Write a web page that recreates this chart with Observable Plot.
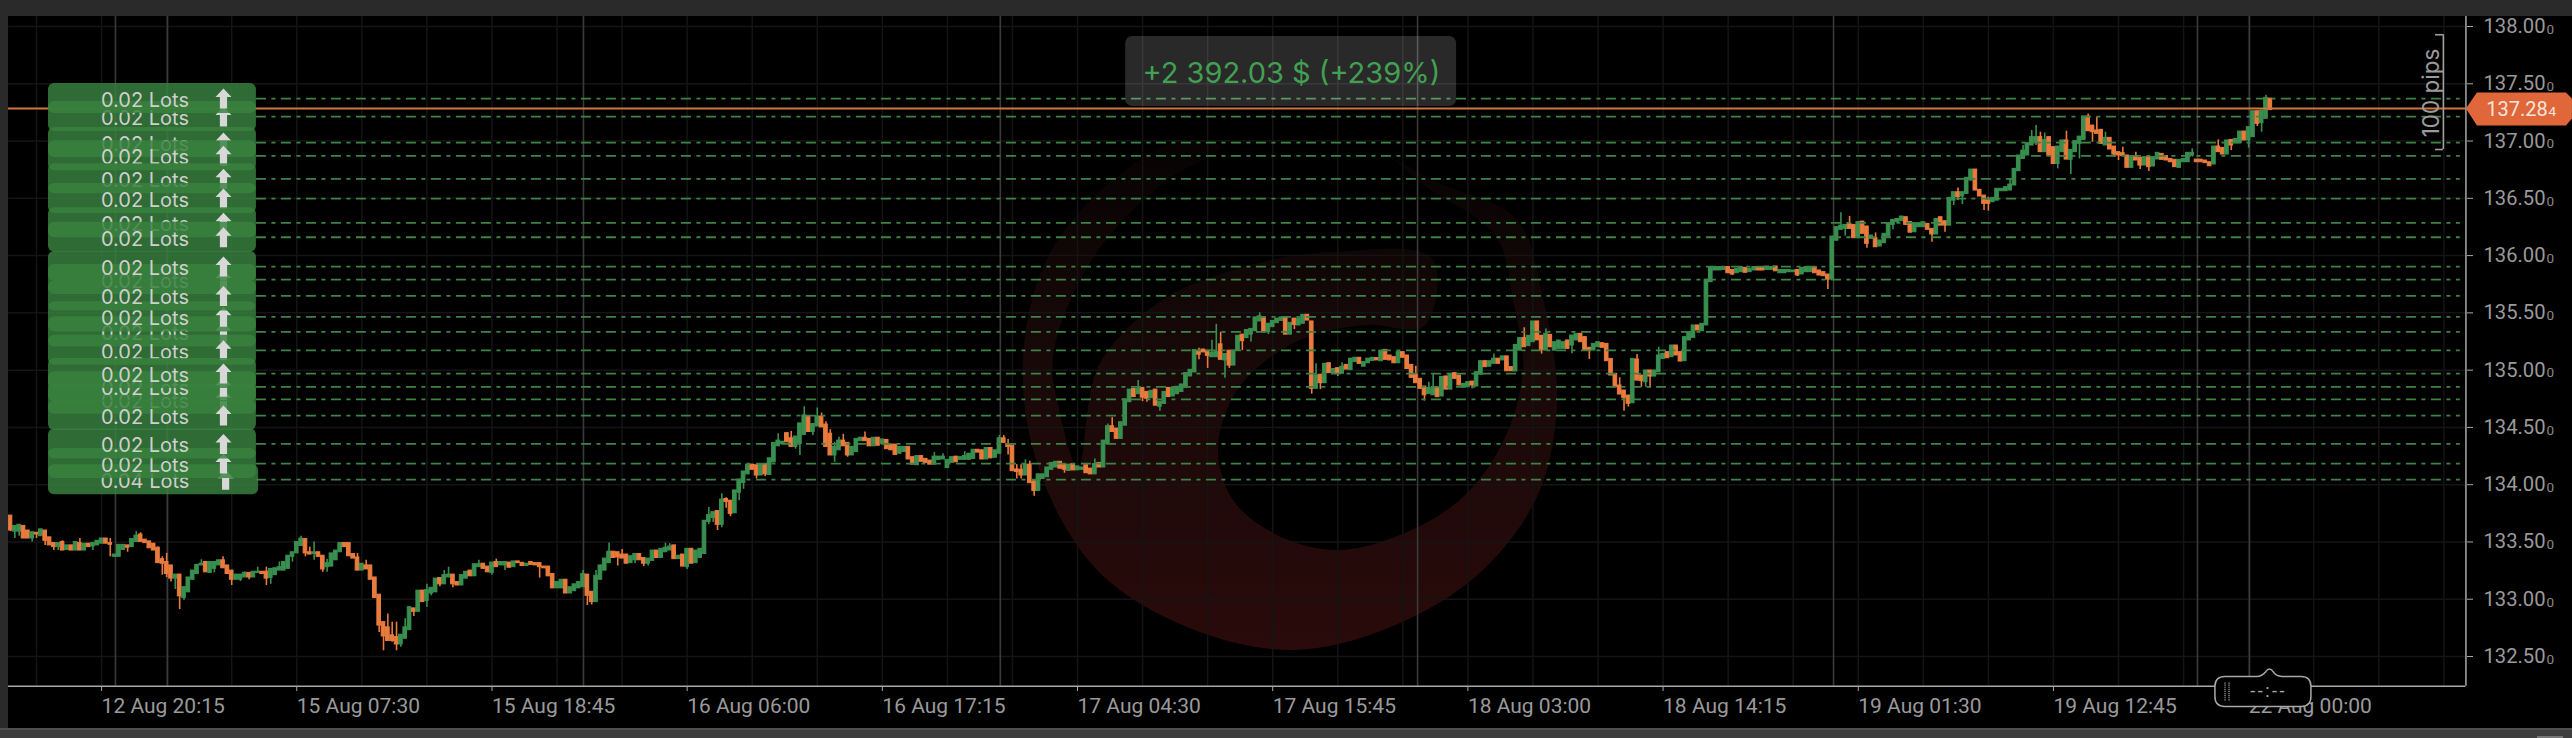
<!DOCTYPE html>
<html>
<head>
<meta charset="utf-8">
<script src="https://cdn.jsdelivr.net/npm/d3@7"></script>
<script src="https://cdn.jsdelivr.net/npm/@observablehq/plot@0.6"></script>
<style>
html,body{margin:0;padding:0;background:#000;width:2572px;height:738px;overflow:hidden}
#wrap{position:relative;width:2572px;height:738px}
.chrome{position:absolute;background:#2a2a2a}
</style>
</head>
<body>
<div id="wrap"></div>
<script>
// each row: open, close, high (0 = none), low (0 = none)
const barsDay1 = [[133.73,133.60,0,133.59],[133.59,133.64,0,133.53],[133.59,133.65,0,133.55],[133.64,133.53],[133.60,133.53],[133.53,133.585,0,133.5],[133.58,133.565,0,133.53],[133.55,133.61],[133.60,133.51,0,133.47],[133.54,133.47],[133.49,133.455,0,133.425],[133.455,133.49,0,133.425],[133.50,133.425,133.51,0],[133.43,133.47],[133.47,133.425],[133.425,133.50],[133.49,133.425,133.53,0],[133.425,133.485],[133.485,133.455],[133.46,133.49,0,133.425],[133.47,133.51],[133.485,133.53],[133.53,133.485],[133.49,133.475,133.53,133.37],[133.37,133.39],[133.37,133.475],[133.43,133.475],[133.47,133.45,0,133.41],[133.455,133.525],[133.5,133.555,133.59,0],[133.565,133.5,133.58,0],[133.52,133.49],[133.505,133.445],[133.485,133.425],[133.45,133.315,133.455,0],[133.35,133.31,133.37,133.21],[133.325,133.22,133.4,133.19],[133.295,133.18,0,133.15],[133.18,133.215,0,133.085],[133.215,133.025,0,132.91],[133.01,133.105,0,132.99],[133.06,133.19],[133.17,133.25],[133.22,133.30],[133.295,133.31,133.345,0],[133.325,133.235,133.33,0],[133.23,133.325],[133.265,133.325,0,133.23],[133.295,133.34],[133.34,133.27,133.37,0],[133.295,133.22],[133.25,133.17,0,133.12],[133.17,133.215],[133.17,133.215,0,133.155],[133.19,133.23,133.24,0],[133.23,133.19,0,133.17],[133.19,133.24],[133.23,133.24,133.28,0],[133.24,133.22],[133.24,133.18,133.28,133.12],[133.185,133.265,0,133.13],[133.21,133.27],[133.25,133.28,133.325,0],[133.25,133.325],[133.265,133.38],[133.37,133.41,0,133.325],[133.4,133.5],[133.465,133.53,133.55,0],[133.525,133.4,0,133.37],[133.41,133.39,133.455,0],[133.395,133.41,133.5,133.34],[133.41,133.37],[133.38,133.26,0,133.235],[133.28,133.315,133.35,133.235],[133.285,133.40],[133.34,133.425],[133.41,133.49],[133.49,133.455],[133.49,133.375],[133.395,133.355],[133.365,133.25,133.4,0],[133.25,133.31],[133.295,133.26,133.34,0],[133.295,133.17],[133.19,133.01],[133.04,132.77,0,132.71],[132.80,132.675,0,132.55],[132.755,132.635,132.87,0],[132.685,132.635,132.8,132.625],[132.67,132.605,132.8,132.55],[132.605,132.69,0,132.58],[132.655,132.755,132.83,0],[132.73,132.93],[132.92,132.89,0,132.85],[132.89,133.075],[133.075,132.975],[132.985,133.08,133.13,132.93],[133.05,133.1,0,133.03],[133.06,133.18],[133.185,133.13,0,133.11],[133.13,133.21,133.25,0],[133.19,133.215,133.28,0],[133.215,133.13,0,133.1],[133.15,133.12],[133.12,133.21],[133.18,133.24],[133.25,133.2],[133.2,133.305],[133.28,133.305,133.34,0],[133.31,133.265],[133.285,133.235],[133.23,133.32,0,133.21],[133.325,133.28,133.35,0],[133.295,133.325],[133.295,133.325,0,133.25],[133.32,133.275],[133.28,133.33]];
const barsDay2 = [[133.33,133.315],[133.318,133.29],[133.29,133.31],[133.325,133.30],[133.315,133.295],[133.315,133.28,0,133.185],[133.285,133.27],[133.285,133.2],[133.22,133.095],[133.095,133.15],[133.095,133.17],[133.17,133.05],[133.05,133.105],[133.07,133.13],[133.095,133.15],[133.105,133.22,133.25,0],[133.215,133.03,0,132.945],[133.065,132.975,0,132.95],[132.975,133.205,133.25,0],[133.17,133.295],[133.25,133.355],[133.315,133.415,133.49,0],[133.415,133.36],[133.41,133.365,0,133.29],[133.39,133.355,133.435,0],[133.39,133.31],[133.315,133.375],[133.34,133.395,0,133.31],[133.395,133.34],[133.36,133.31,0,133.285],[133.31,133.355,0,133.29],[133.335,133.425],[133.425,133.36],[133.36,133.44],[133.41,133.45,133.49,0],[133.425,133.46,133.485,0],[133.47,133.35],[133.35,133.38],[133.39,133.285],[133.28,133.44,0,133.26],[133.44,133.31],[133.315,133.425],[133.36,133.44],[133.395,133.685],[133.675,133.735,133.8,133.65],[133.71,133.76,0,133.67],[133.77,133.65,0,133.6],[133.65,133.87,133.92,133.625],[133.875,133.85,133.885,133.795],[133.86,133.745,0,133.72],[133.75,133.95],[133.93,134.045,0,133.86],[134.015,134.115,0,133.96],[134.09,134.175],[134.175,134.13],[134.17,134.08,0,134.05],[134.08,134.18],[134.18,134.09,0,134.07],[134.085,134.23],[134.195,134.365],[134.335,134.385,134.445,0],[134.355,134.375],[134.45,134.37],[134.405,134.33,134.465,0],[134.33,134.42,0,134.31],[134.355,134.535,0,134.255],[134.435,134.605,134.68,0],[134.6,134.46],[134.46,134.53,0,134.43],[134.508,134.595,134.67,0],[134.595,134.5,134.625,0],[134.525,134.33,134.55,0],[134.445,134.255,134.48,0],[134.255,134.33,134.37,134.195],[134.3,134.385,134.415,0],[134.385,134.335,134.44,0],[134.365,134.255,0,134.24],[134.255,134.33],[134.285,134.4],[134.38,134.41],[134.41,134.38,134.46,0],[134.4,134.335],[134.335,134.41],[134.41,134.34],[134.355,134.395],[134.39,134.31],[134.35,134.3],[134.35,134.26],[134.27,134.33],[134.285,134.33],[134.33,134.22],[134.24,134.175],[134.17,134.25],[134.25,134.2],[134.225,134.19],[134.21,134.175],[134.175,134.245,134.28,0],[134.215,134.245],[134.22,134.245,134.27,0],[134.145,134.217],[134.19,134.24],[134.245,134.195],[134.217,134.24],[134.217,134.25,134.29,0],[134.217,134.27],[134.225,134.305],[134.305,134.28],[134.3,134.22],[134.22,134.32],[134.32,134.23],[134.235,134.3],[134.27,134.405,134.43,0],[134.405,134.365,134.43,0],[134.355,134.33,134.395,134.26],[134.34,134.118],[134.133,134.11,134.175,134.05],[134.13,134.08,134.175,134.05],[134.08,134.175,134.217,0],[134.175,134.013,134.205,0],[134.03,133.945,0,133.9],[133.945,134.09]];
const barsDay3 = [[134.05,134.09],[134.065,134.15],[134.13,134.19],[134.15,134.2],[134.2,134.14],[134.175,134.13,0,134.1],[134.12,134.175],[134.18,134.125],[134.125,134.16],[134.13,134.15],[134.17,134.1],[134.14,134.09],[134.09,134.18,134.225,0],[134.19,134.15],[134.15,134.385],[134.355,134.51,134.53,0],[134.51,134.46,134.585,0],[134.49,134.4],[134.4,134.545],[134.515,134.745],[134.72,134.83],[134.835,134.765],[134.79,134.835,134.91,0],[134.845,134.76,0,134.725],[134.81,134.75,0,134.72],[134.755,134.82],[134.83,134.69],[134.68,134.725,0,134.64],[134.705,134.81],[134.845,134.765],[134.77,134.845],[134.79,134.855],[134.81,134.875],[134.845,134.975],[134.945,135.003],[134.98,135.175],[135.165,135.135,135.19,135.09],[135.18,135.155],[135.17,135.125,0,135.015],[135.113,135.15,135.26,0],[135.113,135.157,135.4,0],[135.225,135.09,135.33,0],[135.085,135.14,0,134.93],[135.17,135.04,0,135.015],[135.04,135.17],[135.17,135.3],[135.31,135.253,0,135.17],[135.28,135.35],[135.31,135.36,0,135.245],[135.34,135.46],[135.425,135.47,135.5,0],[135.46,135.33],[135.33,135.405,0,135.31],[135.375,135.43],[135.41,135.45],[135.43,135.46],[135.46,135.31],[135.31,135.413],[135.45,135.395,0,135.355],[135.39,135.45],[135.405,135.483],[135.483,135.433],[135.425,134.837,0,134.79],[134.837,134.953,135.055,0],[134.96,134.886,0,134.83],[134.886,135.055],[135.06,134.974],[134.974,135.01],[135.017,134.974,0,134.945],[134.968,135.03,135.064,0],[135.046,135.005],[135,135.1],[135.07,135.108],[135.108,135.055],[135.03,135.07],[135.06,135.1],[135.08,135.108],[135.105,135.085],[135.078,135.17],[135.177,135.09],[135.128,135.085],[135.113,135.06],[135.06,135.157],[135.157,135.108],[135.128,135.01],[135.046,134.933],[134.96,134.886,135.035,0],[134.924,134.837],[134.857,134.78,0,134.73],[134.793,134.845,134.895,0],[134.78,134.845,134.96,0],[134.845,134.764],[134.77,134.94],[134.945,134.83],[134.83,134.968],[134.974,134.924],[134.953,134.866],[134.85,134.88],[134.85,134.895],[134.9,134.866,0,134.837],[134.857,134.982],[134.96,135.078],[135.078,135.026],[135.03,135.078],[135.055,135.1,135.14,0],[135.1,135.055],[135.085,135.12],[135.12,134.99],[135.026,134.99],[134.988,135.22],[135.17,135.28],[135.28,135.2,135.37,0],[135.21,135.3],[135.244,135.425],[135.425,135.26],[135.3,135.177,0,135.14],[135.17,135.317,135.36,0],[135.308,135.2],[135.17,135.244]];
const barsDay4 = [[135.186,135.259],[135.186,135.244],[135.259,135.186],[135.215,135.302,0,135.142],[135.259,135.317],[135.317,135.244],[135.288,135.177],[135.195,135.171,0,135.093],[135.171,135.229],[135.2,135.244],[135.235,135.195],[135.229,135.078],[135.098,134.953],[134.967,134.851],[134.866,134.787,134.933,0],[134.822,134.758,0,134.642],[134.778,134.706,0,134.677],[134.711,135.098],[135.093,134.909,135.136,0],[134.953,134.904,0,134.851],[134.895,134.997,0,134.851],[134.997,134.944,0,134.842],[134.944,134.997],[134.982,135.128,135.2,0],[135.098,135.142],[135.157,135.104],[135.113,135.215],[135.215,135.128],[135.157,135.075],[135.078,135.288],[135.259,135.331],[135.282,135.39],[135.39,135.346],[135.34,135.404],[135.39,135.79],[135.768,135.893],[135.87,135.9],[135.87,135.9],[135.875,135.9],[135.9,135.846],[135.875,135.835,0,135.826],[135.846,135.885],[135.855,135.9],[135.893,135.85],[135.855,135.885],[135.87,135.9],[135.9,135.87],[135.9,135.87],[135.875,135.905],[135.875,135.9],[135.905,135.863],[135.846,135.875],[135.846,135.875],[135.855,135.875],[135.855,135.87],[135.875,135.826,0,135.817],[135.835,135.893],[135.855,135.9],[135.855,135.893],[135.9,135.846],[135.87,135.826],[135.855,135.82],[135.835,135.79,0,135.704]];
const barsDay5 = [[135.79,136.166],[136.13,136.248],[136.225,136.262,136.373,0],[136.233,136.268,0,136.17],[136.277,136.233,136.341,0],[136.268,136.152],[136.152,136.292],[136.297,136.19],[136.254,136.102,0,136.065],[136.146,136.175],[136.152,136.073,136.198,0],[136.079,136.132],[136.108,136.19],[136.166,136.283],[136.268,136.312,0,136.225],[136.292,136.32],[136.3,136.341],[136.335,136.268],[136.292,136.2],[136.204,136.277],[136.248,136.283],[136.248,136.292],[136.277,136.225],[136.233,136.184,0,136.117],[136.184,136.32],[136.335,136.262],[136.3,136.262,0,136.204],[136.262,136.504],[136.48,136.553,0,136.437],[136.553,136.51,136.591,136.48],[136.516,136.553,0,136.446],[136.539,136.679],[136.655,136.751],[136.751,136.568],[136.574,136.516],[136.524,136.452,0,136.393],[136.481,136.452,136.51,136.388],[136.466,136.504],[136.48,136.583],[136.562,136.583],[136.562,136.597],[136.568,136.62,136.67,0],[136.612,136.757],[136.737,136.874],[136.844,136.917,136.961,0],[136.874,136.981],[136.961,137.034,137.092,0],[136.99,137.034,137.135,136.961],[137.034,136.903,137.077,0],[136.903,137.01,137.07,0],[137.034,136.874],[136.946,136.8],[136.8,136.952,0,136.757],[136.903,137.005],[137.005,136.838,137.086,0],[136.836,136.923,0,136.708],[136.903,136.999],[136.975,137.039,0,136.844],[137.01,137.214],[137.214,137.086,137.237,0],[137.135,137.077,0,136.99],[137.092,137.063,137.208,0],[137.098,136.975],[136.961,137.028,137.077,0],[137.028,136.926],[136.952,136.882,0,136.859],[136.903,136.874,0,136.83],[136.894,136.868,136.946,0],[136.874,136.766],[136.766,136.868],[136.865,136.83,136.903,0],[136.853,136.786,0,136.751],[136.786,136.859],[136.859,136.772,0,136.734],[136.778,136.859],[136.839,136.897],[136.888,136.836],[136.868,136.83],[136.844,136.815],[136.836,136.772],[136.766,136.836],[136.815,136.844],[136.815,136.897],[136.874,136.897,136.932,136.86]];
const barsDay6 = [[136.838,136.815],[136.838,136.815],[136.83,136.807],[136.815,136.78],[136.795,136.952],[136.952,136.903,137.01,0],[136.94,136.882],[136.882,137.005],[137.01,136.961,0,136.917],[136.981,137.019],[136.981,137.083],[137.083,137.005],[137.005,137.121,0,136.938],[137.034,137.26],[137.26,137.15,0,137.127],[137.156,137.266,0,137.077],[137.194,137.377,137.4,0],[137.37,137.27]];

const tradePrices = [137.371,137.214,136.987,136.871,136.67,136.498,136.286,136.16,135.904,135.791,135.648,135.465,135.334,135.173,134.97,134.854,134.745,134.603,134.356,134.184,134.044];
const tradeLots = ["0.02 Lots","0.02 Lots","0.02 Lots","0.02 Lots","0.02 Lots","0.02 Lots","0.02 Lots","0.02 Lots","0.02 Lots","0.02 Lots","0.02 Lots","0.02 Lots","0.02 Lots","0.02 Lots","0.02 Lots","0.02 Lots","0.02 Lots","0.02 Lots","0.02 Lots","0.02 Lots","0.04 Lots"];
const tradeStack = [1,0,2,3,4,5,6,7,9,8,12,11,10,13,16,15,14,17,20,19,18];

const priceTicks = [132.5,133,133.5,134,134.5,135,135.5,136,136.5,137,137.5,138];
const timeTickBars = [21,66,111,156,201,246,291,336,381,426,471,516];
const timeTickLabels = ["12 Aug 20:15","15 Aug 07:30","15 Aug 18:45","16 Aug 06:00","16 Aug 17:15","17 Aug 04:30","17 Aug 15:45","18 Aug 03:00","18 Aug 14:15","19 Aug 01:30","19 Aug 12:45","22 Aug 00:00"];
const sessionBars = [24.2,36.2,132.1,228.2,324.4,420.3,504.2,516.2];
const gridBars = d3.range(6,566,15);
const currentPrice = 137.284;
const pnlLabel = "+2 392.03 $ (+239%)";
const pipsLabel = "100 pips";
const pipsRange = [137.928,136.926];

const GREEN="#388f50", ORANGE="#e97b3d", AXIS="#a8a8a8", TEXT="#9a9a9a";
const candles = [...barsDay1,...barsDay2,...barsDay3,...barsDay4,...barsDay5,...barsDay6].map((r,i)=>({
  i, o:r[0], c:r[1], h:r[2]||Math.max(r[0],r[1]), l:r[3]||Math.min(r[0],r[1]), col:r[1]>=r[0]?GREEN:ORANGE
}));

const yTop=138.087, yBottom=132.24, xLeft=-0.46, xRight=566.1;
const arrowSymbol={draw(c){c.moveTo(0,-10);c.lineTo(8,-1.5);c.lineTo(3.6,-1.5);c.lineTo(3.6,10);c.lineTo(-3.6,10);c.lineTo(-3.6,-1.5);c.lineTo(-8,-1.5);c.closePath();}};
const tagSymbol={draw(c){c.moveTo(0,0);c.lineTo(11,-16);c.lineTo(100,-16);c.lineTo(106,-10);c.lineTo(106,10);c.lineTo(100,17);c.lineTo(11,17);c.closePath();}};
const cursorSymbol={draw(c){
  const L=-48,R=48,T=-15,B=15,r=10;
  c.moveTo(L+r,T);c.lineTo(-6,T);c.quadraticCurveTo(-1,T,3,T-5);c.quadraticCurveTo(6.5,T-10,10,T-5);c.quadraticCurveTo(13,T,19,T);
  c.lineTo(R-r,T);c.quadraticCurveTo(R,T,R,T+r);c.lineTo(R,B-r);c.quadraticCurveTo(R,B,R-r,B);
  c.lineTo(L+r,B);c.quadraticCurveTo(L,B,L,B-r);c.lineTo(L,T+r);c.quadraticCurveTo(L,T,L+r,T);c.closePath();
}};
const gripSymbol={draw(c){for(const dx of [-2.5,1.5])for(let k=-4;k<=4;k++){c.rect(dx,k*2.1-0.6,1.2,1.2);}}};

function watermark(){
  const pts=[[1190,140],[1113,180],[1050,253],[1023,385],[1043,480],[1100,573],[1187,627],[1293,650],[1400,623],[1483,570],[1540,490],[1556,420],[1541,290],[1520,223],[1433,180],[1395,160],
  [1417,180],[1500,243],[1513,300],[1523,367],[1507,433],[1463,497],[1400,535],[1337,550],[1273,533],[1233,500],[1218,453],[1233,397],[1300,340],[1367,325],[1423,327],[1435,263],[1333,252],[1233,270],[1167,297],[1100,363],[1077,468],[1057,400],[1053,380],[1080,280],[1167,180],[1220,145]];
  const g=d3.create("svg:g");
  const lg=g.append("defs").append("linearGradient").attr("id","wm").attr("gradientUnits","userSpaceOnUse").attr("x1",0).attr("x2",0).attr("y1",140).attr("y2",650);
  lg.append("stop").attr("offset","0").attr("stop-color","#070303");
  lg.append("stop").attr("offset","0.45").attr("stop-color","#190909");
  lg.append("stop").attr("offset","1").attr("stop-color","#2a0a0a");
  g.append("path").attr("d",d3.line().curve(d3.curveCatmullRomClosed.alpha(1))(pts)).attr("fill","url(#wm)").attr("stroke","none");
  return g.node();
}

const stackMarks = tradeStack.flatMap(k=>{
  const p=tradePrices[k], wide=tradeLots[k]==="0.04 Lots";
  const d=[p];
  return [
    Plot.rect(d,{x1:8.76,x2:wide?57.2:56.7,y1:v=>v+0.131,y2:v=>v-0.131,rx:6,fill:"#39813f",fillOpacity:0.83}),
    Plot.text(d,{x:31,y:v=>v,dy:2,text:()=>tradeLots[k],fill:"#cfcfcf",fontFamily:"Inter",fontSize:20,textAnchor:"middle"}),
    Plot.dot(d,{x:wide?49.6:49.1,y:v=>v,symbol:arrowSymbol,fill:"#d8d8d8",stroke:"none"})
  ];
});

const chart = Plot.plot({
  width:2572,height:738,
  marginLeft:8,marginRight:106,marginTop:16,marginBottom:52,
  x:{domain:[0,566],range:[10,2465],axis:null},
  y:{domain:[132.5,138],range:[656,26],axis:null},
  color:{type:"identity"},
  style:{background:"#000",color:TEXT,fontFamily:"Roboto",overflow:"visible"},
  marks:[
    watermark,
    Plot.ruleX(gridBars,{x:d=>d,y1:yTop,y2:yBottom,stroke:"#141414",strokeWidth:1.5}),
    Plot.ruleY(priceTicks,{y:d=>d,x1:xLeft,x2:xRight,stroke:"#141414",strokeWidth:1.5}),
    Plot.ruleX(sessionBars,{x:d=>d,y1:yTop,y2:yBottom,stroke:"#3a3a3a",strokeWidth:1.6}),
    Plot.ruleX(candles,{x:"i",y1:"l",y2:"h",stroke:"col",strokeWidth:1.6}),
    Plot.rect(candles,{x1:d=>d.i-0.42,x2:d=>d.i+0.42,y1:"o",y2:"c",fill:"col",stroke:"col",strokeWidth:1}),
    Plot.ruleY(tradePrices,{y:d=>d,x1:56.7,x2:564.8,stroke:"#3f8447",strokeWidth:1.8,strokeDasharray:"10,5.5,4,5.5"}),
    Plot.ruleY([currentPrice],{y:d=>d,x1:xLeft,x2:xRight,stroke:"#d0743d",strokeWidth:2.2}),
    ...stackMarks,
    Plot.rect([pnlLabel],{x1:257.1,x2:333.4,y1:137.913,y2:137.302,rx:7,fill:"#fff",fillOpacity:0.16}),
    Plot.text([pnlLabel],{x:295.3,y:137.592,text:d=>d,fill:"#42a053",fontFamily:"Inter",fontSize:29,textAnchor:"middle"}),
    Plot.ruleX([xRight],{x:d=>d,y1:yTop,y2:yBottom,stroke:AXIS,strokeWidth:1.5}),
    Plot.ruleY([yBottom],{y:d=>d,x1:xLeft,x2:xRight,stroke:AXIS,strokeWidth:1.5}),
    Plot.axisY(priceTicks,{anchor:"right",tickSize:6,tickPadding:11,stroke:AXIS,fill:TEXT,fontSize:20.2,tickFormat:d=>d.toFixed(2),label:null}),
    Plot.text(priceTicks,{x:584.7,y:d=>d,dy:3,text:()=>"0",fill:"#8a8a8a",fontSize:13.5,textAnchor:"start"}),
    Plot.axisX(timeTickBars,{anchor:"bottom",tickSize:5,tickPadding:7,stroke:AXIS,fill:TEXT,fontSize:21,textAnchor:"start",tickFormat:(d,i)=>timeTickLabels[timeTickBars.indexOf(d)],label:null}),
    Plot.ruleX([560.9],{x:d=>d,y1:pipsRange[0],y2:pipsRange[1],stroke:"#a0a0a0",strokeWidth:1.6}),
    Plot.ruleY(pipsRange,{y:d=>d,x1:559.1,x2:560.9,stroke:"#a0a0a0",strokeWidth:1.6}),
    Plot.text([pipsLabel],{x:558.2,y:137.42,text:d=>d,rotate:-90,fill:"#9b9b9b",fontFamily:"Inter",fontSize:22.5,textAnchor:"middle"}),
    Plot.dot([currentPrice],{x:xRight,y:d=>d,symbol:tagSymbol,fill:"#e0673a",stroke:"none"}),
    Plot.text([currentPrice],{x:570.8,y:d=>d,dy:1,text:d=>d.toFixed(2),fill:"#f6e6de",fontSize:20,textAnchor:"start"}),
    Plot.text(["4"],{x:586,y:currentPrice,dy:3,text:d=>d,fill:"#f6e6de",fontSize:13.5,textAnchor:"middle"}),
    Plot.dot(["--:--"],{x:519.3,y:132.195,symbol:cursorSymbol,fill:"#000",stroke:"#a8a8a8",strokeWidth:1.5}),
    Plot.dot(["grip"],{x:511,y:132.195,symbol:gripSymbol,fill:"#a8a8a8",stroke:"none"}),
    Plot.text(["--:--"],{x:520.6,y:132.195,text:d=>d,fill:"#a8a8a8",fontSize:18,textAnchor:"middle"})
  ]
});
d3.select(chart).selectAll("text").filter(function(){return this.textContent==="--:--";}).style("letter-spacing","2.5px");
const wrap=document.getElementById("wrap");
wrap.appendChild(chart);
for(const [l,t,w,h,c] of [[0,0,2572,16,"#2a2a2a"],[0,0,8,738,"#2a2a2a"],[0,728,2572,10,"#3e3e3e"],[0,728,2572,2,"#4f4f4f"],[2537,736,26,2,"#777"]]){
  const e=document.createElement("div");e.className="chrome";
  e.style.cssText=`left:${l}px;top:${t}px;width:${w}px;height:${h}px;background:${c}`;
  wrap.appendChild(e);
}
</script>
</body>
</html>
